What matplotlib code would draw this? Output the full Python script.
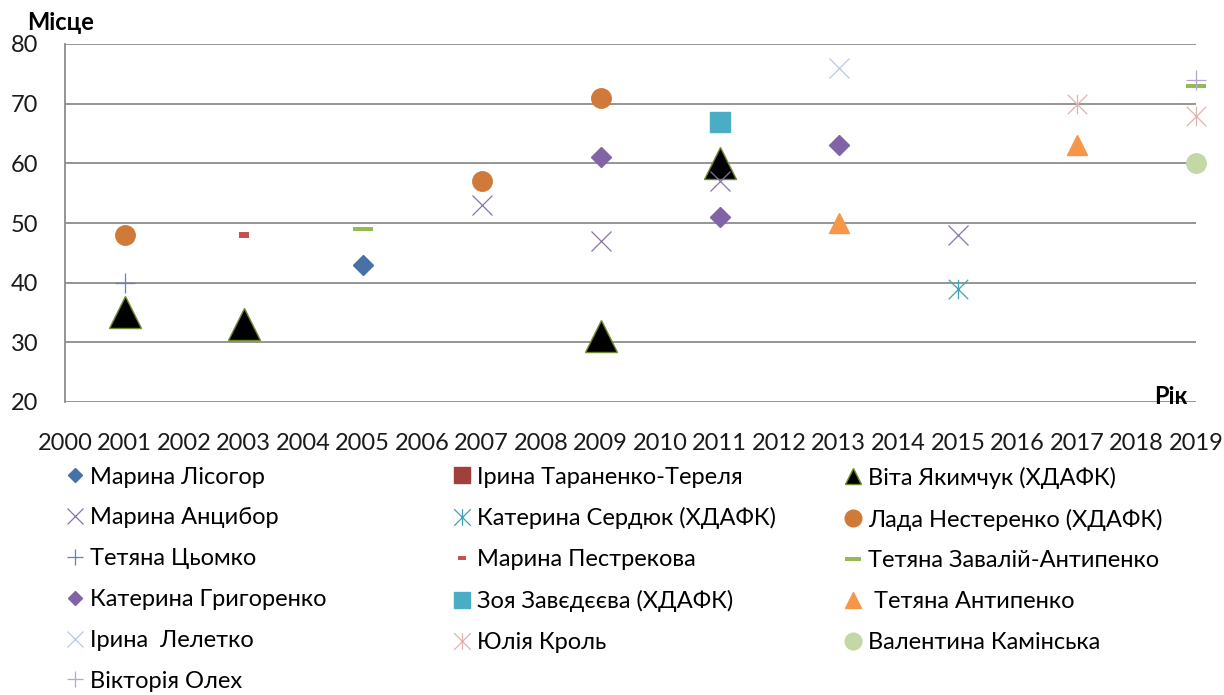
import matplotlib
matplotlib.use("Agg")
import matplotlib.pyplot as plt
from matplotlib.path import Path
from matplotlib.lines import Line2D

plt.rcParams['font.family'] = ['Lato', 'Noto Sans', 'DejaVu Sans']

# ---------------- data ----------------
years = list(range(2000, 2020))
year_labels = [str(y) for y in years]
y_ticks = [20, 30, 40, 50, 60, 70, 80]

names = [
    "Марина Лісогор", "Ірина Тараненко-Тереля", "Віта Якимчук (ХДАФК)",
    "Марина Анцибор", "Катерина Сердюк (ХДАФК)", "Лада Нестеренко (ХДАФК)",
    "Тетяна Цьомко", "Марина Пестрекова", "Тетяна Завалій-Антипенко",
    "Катерина Григоренко", "Зоя Завєдєєва (ХДАФК)", " Тетяна Антипенко",
    "Ірина  Лелетко", "Юлія Кроль", "Валентина Камінська",
    "Вікторія Олех",
]

lisohor_x, lisohor_y = [2005], [43]
taranenko_x, taranenko_y = [], []
yakymchuk_x, yakymchuk_y = [2001, 2003, 2009, 2011], [35, 33, 31, 60]
antsybor_x, antsybor_y = [2007, 2009, 2011, 2015], [53, 47, 57, 48]
serdiuk_x, serdiuk_y = [2015], [39]
nesterenko_x, nesterenko_y = [2001, 2007, 2009], [48, 57, 71]
tsomko_x, tsomko_y = [2001], [40]
pestrekova_x, pestrekova_y = [2003], [48]
zavalii_x, zavalii_y = [2005, 2019], [49, 73]
hryhorenko_x, hryhorenko_y = [2009, 2011, 2013], [61, 51, 63]
zaviedieieva_x, zaviedieieva_y = [2011], [67]
antypenko_x, antypenko_y = [2013, 2017], [50, 63]
leletko_x, leletko_y = [2013], [76]
krol_x, krol_y = [2017, 2019], [70, 68]
kaminska_x, kaminska_y = [2019], [60]
olekh_x, olekh_y = [2019], [74]

series_x = [lisohor_x, taranenko_x, yakymchuk_x, antsybor_x, serdiuk_x,
            nesterenko_x, tsomko_x, pestrekova_x, zavalii_x, hryhorenko_x,
            zaviedieieva_x, antypenko_x, leletko_x, krol_x, kaminska_x, olekh_x]
series_y = [lisohor_y, taranenko_y, yakymchuk_y, antsybor_y, serdiuk_y,
            nesterenko_y, tsomko_y, pestrekova_y, zavalii_y, hryhorenko_y,
            zaviedieieva_y, antypenko_y, leletko_y, krol_y, kaminska_y, olekh_y]

# ---------------- marker shapes ----------------
ast_path = Path([(-0.5, -0.5), (0.5, 0.5), (-0.5, 0.5), (0.5, -0.5), (0, -0.5), (0, 0.5)],
                [Path.MOVETO, Path.LINETO, Path.MOVETO, Path.LINETO, Path.MOVETO, Path.LINETO])
short_bar = Path([(-1, -0.5), (1, -0.5), (1, 0.5), (-1, 0.5), (-1, -0.5)],
                 [Path.MOVETO, Path.LINETO, Path.LINETO, Path.LINETO, Path.CLOSEPOLY])
long_bar = Path([(-1, -0.24), (1, -0.24), (1, 0.24), (-1, 0.24), (-1, -0.24)],
                [Path.MOVETO, Path.LINETO, Path.LINETO, Path.LINETO, Path.CLOSEPOLY])

# style: marker, plot size, legend size, face, edge, edge width
styles = [
    dict(marker='D', ms=10, lms=7.5, mfc='#4672A8', mec='#4672A8', mew=1),
    dict(marker='s', ms=12, lms=11, mfc='#A13F3C', mec='#A13F3C', mew=1),
    dict(marker='^', ms=23, lms=12, mfc='#000000', mec='#6F8A2E', mew=1),
    dict(marker='x', ms=14, lms=12, mfc='none', mec='#8A73AE', mew=0.9),
    dict(marker=ast_path, ms=14, lms=12, mfc='none', mec='#3FA3B5', mew=0.9),
    dict(marker='o', ms=14, lms=12, mfc='#CF7A39', mec='#CF7A39', mew=1),
    dict(marker='+', ms=14, lms=12, mfc='none', mec='#5A85C4', mew=0.9),
    dict(marker=short_bar, ms=7.5, lms=6, mfc='#C8504C', mec='#C8504C', mew=0),
    dict(marker=long_bar, ms=15, lms=12, mfc='#94BA52', mec='#94BA52', mew=0),
    dict(marker='D', ms=10, lms=7.5, mfc='#8064A6', mec='#8064A6', mew=1),
    dict(marker='s', ms=14, lms=11, mfc='#4BACC6', mec='#4BACC6', mew=1),
    dict(marker='^', ms=15, lms=12, mfc='#F79646', mec='#F79646', mew=1),
    dict(marker='x', ms=14, lms=12, mfc='none', mec='#B8C8E6', mew=0.9),
    dict(marker=ast_path, ms=14, lms=12, mfc='none', mec='#E2B2B1', mew=0.9),
    dict(marker='o', ms=14, lms=12, mfc='#C4D8A6', mec='#C4D8A6', mew=1),
    dict(marker='+', ms=14, lms=12, mfc='none', mec='#B4A6CC', mew=0.9),
]

# ---------------- figure ----------------
W, H = 1224, 695
fig = plt.figure(figsize=(W / 100, H / 100), dpi=100)
ax = fig.add_axes([65 / W, 1 - 402 / H, (1196 - 65) / W, (402 - 44) / H])

for xs, ys, st in zip(series_x, series_y, styles):
    ax.plot(xs, ys, linestyle='none', marker=st['marker'], markersize=st['ms'],
            markerfacecolor=st['mfc'], markeredgecolor=st['mec'],
            markeredgewidth=st['mew'], clip_on=False, zorder=3)

ax.set_xlim(2000, 2019)
ax.set_ylim(20, 80)
ax.set_yticks(y_ticks)
ax.set_xticks(years)
ax.set_xticklabels(year_labels)
ax.yaxis.grid(True, color='#8C8C8C', linewidth=1.3)
ax.set_axisbelow(True)
for s in ['top', 'right', 'bottom']:
    ax.spines[s].set_visible(False)
ax.spines['left'].set_color('#8C8C8C')
ax.spines['left'].set_linewidth(1.3)
ax.tick_params(axis='both', length=0, labelsize=17, colors='#000000')
ax.tick_params(axis='y', pad=19)
ax.tick_params(axis='x', pad=22)
for lab in ax.get_xticklabels() + ax.get_yticklabels():
    lab.set_color('#1a1a1a')

fig.text(27 / W, 1 - 23 / H, "Місце", fontsize=17, fontweight='bold', va='center', ha='left')
fig.text(1188 / W, 1 - 396 / H, "Рік", fontsize=17, fontweight='bold', va='center', ha='right')

# ---------------- legend (3 columns, row-major order) ----------------
handles = [Line2D([], [], linestyle='none', marker=st['marker'], markersize=st['lms'],
                  markerfacecolor=st['mfc'], markeredgecolor=st['mec'],
                  markeredgewidth=st['mew']) for st in styles]
col_x = [63, 450, 841]
fs = 17
for c in range(3):
    idx = list(range(c, len(names), 3))
    fig.legend([handles[i] for i in idx], [names[i] for i in idx],
               loc='upper left', bbox_to_anchor=(col_x[c] / W, 1 - 466.5 / H),
               frameon=False, ncol=1, fontsize=fs, borderpad=0, borderaxespad=0,
               handlelength=1.0, handletextpad=0.14, labelspacing=0.84)

fig.savefig("out.png", dpi=100)
